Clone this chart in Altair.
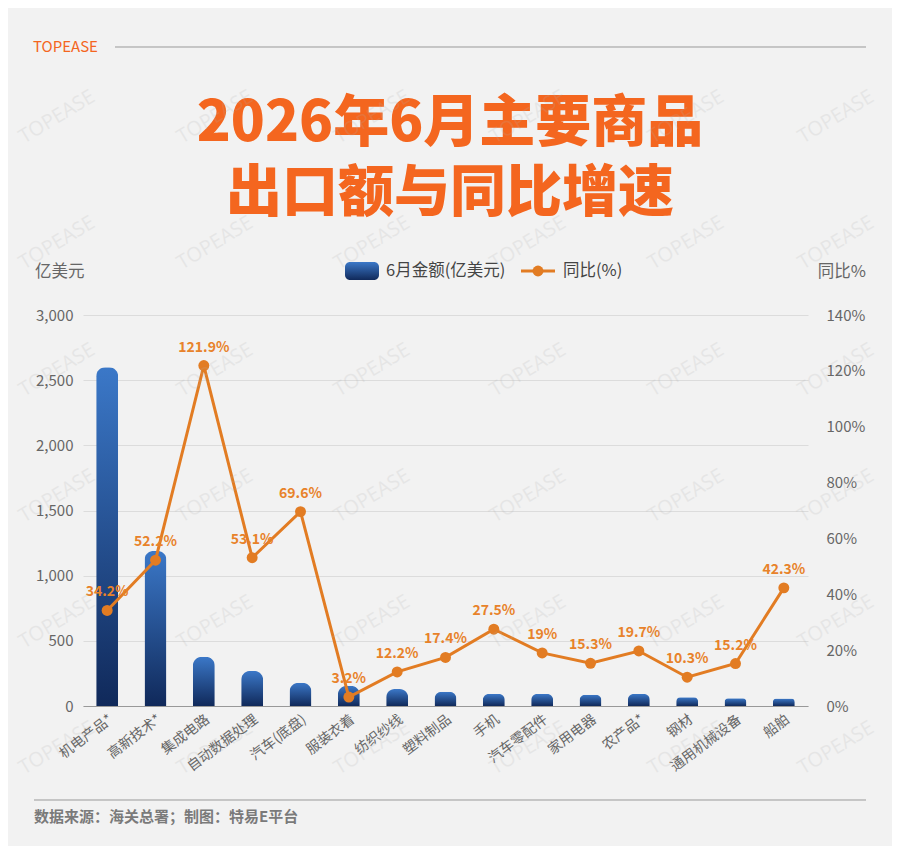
import altair as alt
import pandas as pd

categories = ["机电产品*", "高新技术*", "集成电路", "自动数据处理", "汽车(底盘)", "服装衣着",
              "纺织纱线", "塑料制品", "手机", "汽车零配件", "家用电器", "农产品*", "钢材",
              "通用机械设备", "船舶"]
amounts = [2600, 1190, 378, 269, 179, 156, 130, 110, 92, 92, 87, 93, 67, 59, 57]
yoy = [34.2, 52.2, 121.9, 53.1, 69.6, 3.2, 12.2, 17.4, 27.5, 19, 15.3, 19.7, 10.3, 15.2, 42.3]
left_ticks = [0, 500, 1000, 1500, 2000, 2500, 3000]
right_ticks = [0, 20, 40, 60, 80, 100, 120, 140]

# watermark tiling (decoration), relative to plot origin
wm_x = [-26, 132, 289, 445, 603, 753]
wm_y = [-198, -72, 55, 181, 307, 433]

FONT = "Noto Sans CJK SC"
ORANGE = "#f4661f"
LINE = "#e27c23"
BG = "#f2f2f2"

df = pd.DataFrame({
    "cat": categories,
    "amount": amounts,
    "yoy": yoy,
    "label": [f"{v:g}%" for v in yoy],
})

W, H = 725, 391

bar_grad = alt.Gradient(
    gradient="linear",
    stops=[alt.GradientStop(color="#3b78c8", offset=0),
           alt.GradientStop(color="#10295a", offset=1)],
    x1=0, x2=0, y1=0, y2=1,
)

x_enc = alt.X(
    "cat:N", sort=categories, title=None,
    scale=alt.Scale(paddingInner=0.545, paddingOuter=0.2725),
    axis=alt.Axis(labelAngle=-37, labelAlign="right", labelBaseline="top",
                  labelFontSize=14, labelColor="#666", labelFont=FONT,
                  ticks=False, domainColor="#999", domainWidth=1,
                  labelPadding=6, grid=False),
)

base = alt.Chart(df)

bars = base.mark_bar(color=bar_grad, cornerRadiusTopLeft=9, cornerRadiusTopRight=9).encode(
    x=x_enc,
    y=alt.Y("amount:Q", title=None,
            scale=alt.Scale(domain=[0, 3000], nice=False),
            axis=alt.Axis(values=left_ticks, format=",.0f", labelFontSize=15,
                          labelColor="#666", labelFont=FONT, ticks=False,
                          domain=False, gridColor="#dcdcdc", gridWidth=1,
                          labelPadding=10)),
)

y_r = alt.Y("yoy:Q", title=None,
            scale=alt.Scale(domain=[0, 140], nice=False),
            axis=alt.Axis(orient="right", values=right_ticks,
                          labelExpr="datum.value + '%'", labelFontSize=15,
                          labelColor="#666", labelFont=FONT, ticks=False,
                          domain=False, grid=False, labelPadding=18))

line = base.mark_line(color=LINE, strokeWidth=3).encode(x=x_enc, y=y_r)
pts = base.mark_point(filled=True, color=LINE, size=120, opacity=1).encode(x=x_enc, y=y_r)
lbl = base.mark_text(color="#e8822a", fontSize=14, fontWeight="bold", font=FONT,
                     dy=-18, baseline="middle").encode(x=x_enc, y=y_r, text="label:N")

right = alt.layer(line, pts, lbl)

one = pd.DataFrame({"k": [0]})
deco = alt.Chart(one)

def txt(s, x, y, size, color, align="left", weight="normal"):
    return deco.mark_text(text=s, font=FONT, fontSize=size, color=color, align=align,
                          baseline="middle", fontWeight=weight).encode(
        x=alt.value(x), y=alt.value(y))

header = txt("TOPEASE", -50, -268, 15, ORANGE)
header_rule = deco.mark_rule(color="#999", strokeWidth=1).encode(
    x=alt.value(32), x2=alt.value(783), y=alt.value(-268))
title1 = txt("2026年6月主要商品", 367, -191, 56, ORANGE, align="center", weight=900)
title2 = txt("出口额与同比增速", 367, -121, 56, ORANGE, align="center", weight=900)
ytitle_l = txt("亿美元", -48, -43, 16.5, "#666")
ytitle_r = txt("同比%", 783, -43, 16.5, "#666", align="right")

leg_rect = deco.mark_rect(color=bar_grad, cornerRadius=5).encode(
    x=alt.value(262), x2=alt.value(296), y=alt.value(-53), y2=alt.value(-35))
leg_t1 = txt("6月金额(亿美元)", 303, -44, 16.5, "#444")
leg_line = deco.mark_rule(color=LINE, strokeWidth=3).encode(
    x=alt.value(438), x2=alt.value(472), y=alt.value(-44))
leg_pt = deco.mark_point(filled=True, color=LINE, size=120, opacity=1).encode(
    x=alt.value(455), y=alt.value(-44))
leg_t2 = txt("同比(%)", 480, -44, 16.5, "#444")

foot_rule = deco.mark_rule(color="#999", strokeWidth=1).encode(
    x=alt.value(-49), x2=alt.value(783), y=alt.value(485))
foot_txt = txt("数据来源：海关总署；制图：特易E平台", -49, 502, 15, "#7a7a7a", weight="bold")

wm_df = pd.DataFrame([{"wx": x, "wy": y} for y in wm_y for x in wm_x])
watermark = alt.Chart(wm_df).mark_text(
    text="TOPEASE", font="Open Sans", fontSize=20, fontWeight="normal", angle=329,
    color="#b0b0b0", opacity=0.18, align="center", baseline="middle",
).encode(x=alt.X("wx:Q", scale=None), y=alt.Y("wy:Q", scale=None))

chart = alt.layer(
    bars, right,
    header, header_rule, title1, title2, ytitle_l, ytitle_r,
    leg_rect, leg_t1, leg_line, leg_pt, leg_t2, foot_rule, foot_txt,
    watermark,
).resolve_scale(y="independent").properties(
    width=W, height=H,
    autosize=alt.AutoSizeParams(type="none"),
    padding={"left": 75, "top": 307, "right": 84, "bottom": 140},
    background=BG,
).configure_view(stroke=None)

chart.save("out.html", embed_options={"renderer": "svg", "actions": False})
